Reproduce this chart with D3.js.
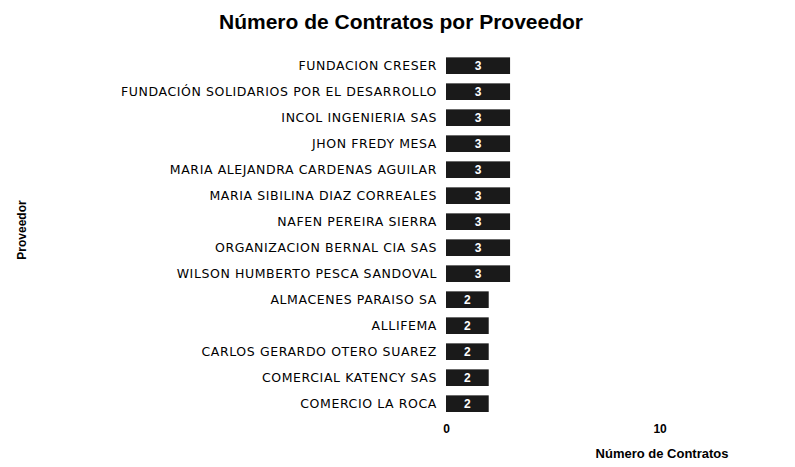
<!DOCTYPE html>
<html>
<head>
<meta charset="utf-8">
<script src="https://cdn.jsdelivr.net/npm/d3@7"></script>
<style>
  body { margin: 0; background: #fff; }
  text { font-family: "Liberation Sans", Arial, sans-serif; }
</style>
</head>
<body>
<div id="chart"></div>
<script>
// Data
// ============================================================================
const proveedores = [
    "FUNDACION CRESER",
    "FUNDACIÓN SOLIDARIOS POR EL DESARROLLO",
    "INCOL INGENIERIA SAS",
    "JHON FREDY MESA",
    "MARIA ALEJANDRA CARDENAS AGUILAR",
    "MARIA SIBILINA DIAZ CORREALES",
    "NAFEN PEREIRA SIERRA",
    "ORGANIZACION BERNAL CIA SAS",
    "WILSON HUMBERTO PESCA SANDOVAL",
    "ALMACENES PARAISO SA",
    "ALLIFEMA",
    "CARLOS GERARDO OTERO SUAREZ",
    "COMERCIAL KATENCY SAS",
    "COMERCIO LA ROCA",
];
const contratos = [3, 3, 3, 3, 3, 3, 3, 3, 3, 2, 2, 2, 2, 2];
const xTicks = [0, 10];

const width = 795, height = 467,
    margin = {top: 48, right: 50, bottom: 50, left: 446};

let svg = d3.select("#chart")
    .append("svg")
        .attr("width", width)
        .attr("height", height);

// Scales
let xScale = d3.scaleLinear()
    .domain([0, 14])
    .range([margin.left, width - margin.right]);

let yScale = d3.scaleBand()
    .domain(proveedores)
    .range([margin.top, margin.top + 26 * (proveedores.length + 0.36)])
    .padding(0.36);

// Title
svg.append("text")
    .attr("x", 401)
    .attr("y", 29)
    .attr("text-anchor", "middle")
    .style("font-size", "21px")
    .style("font-weight", "bold")
    .text("Número de Contratos por Proveedor");

// Category labels
svg.append("g")
    .attr("transform", "translate(" + (margin.left - 9) + ",0)")
    .call(d3.axisLeft(yScale).tickSize(0).tickPadding(0))
    .call(g => g.select(".domain").remove())
    .call(g => g.selectAll("text")
        .style("font-family", "'DejaVu Sans', sans-serif")
        .style("font-size", "12.5px")
        .style("letter-spacing", "0.6px")
        .attr("fill", "#000"));

// Bars
svg.selectAll("rect.bar")
    .data(contratos)
    .enter()
    .append("rect")
        .attr("class", "bar")
        .attr("x", xScale(0))
        .attr("y", (d, i) => yScale(proveedores[i]))
        .attr("width", d => xScale(d) - xScale(0))
        .attr("height", yScale.bandwidth())
        .attr("fill", "#1a1a1a");

// Value labels
svg.selectAll("text.val")
    .data(contratos)
    .enter()
    .append("text")
        .attr("class", "val")
        .attr("x", d => (xScale(d) + xScale(0)) / 2)
        .attr("y", (d, i) => yScale(proveedores[i]) + yScale.bandwidth() / 2)
        .attr("dy", "0.35em")
        .attr("text-anchor", "middle")
        .attr("fill", "#fff")
        .style("font-size", "12px")
        .style("font-weight", "bold")
        .text(d => d);

// X axis
svg.append("g")
    .attr("transform", "translate(0," + 424 + ")")
    .call(d3.axisBottom(xScale).tickValues(xTicks).tickSize(0).tickPadding(0))
    .call(g => g.select(".domain").remove())
    .call(g => g.selectAll("text")
        .style("font-size", "12px")
        .style("font-weight", "bold")
        .attr("fill", "#000"));

svg.append("text")
    .attr("x", 662)
    .attr("y", 458)
    .attr("text-anchor", "middle")
    .style("font-size", "13px")
    .style("font-weight", "bold")
    .text("Número de Contratos");

// Y axis title
svg.append("text")
    .attr("transform", "translate(26,230) rotate(-90)")
    .attr("text-anchor", "middle")
    .style("font-size", "12px")
    .style("font-weight", "bold")
    .text("Proveedor");
</script>
</body>
</html>
